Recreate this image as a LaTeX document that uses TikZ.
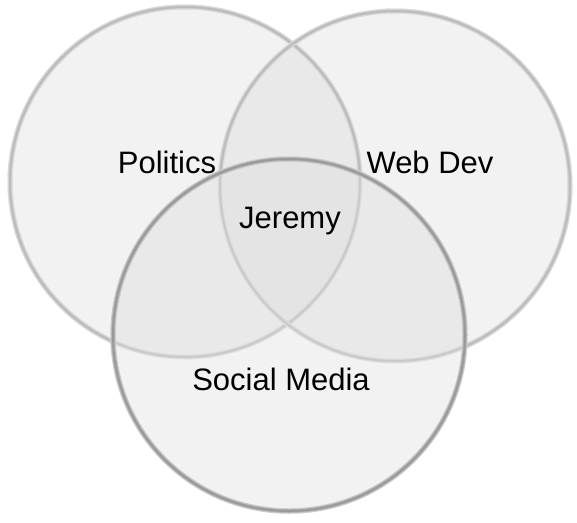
\documentclass[tikz,border=0pt]{standalone}
\usepackage{fontspec}
\setmainfont{Liberation Sans}
\definecolor{vone}{gray}{0.949}
\definecolor{vtwo}{gray}{0.914}
\definecolor{vthree}{gray}{0.894}
\begin{document}
\begin{tikzpicture}[x=1pt,y=-1pt,
  lbl/.style={anchor=base, font=\fontsize{31}{36}\selectfont, text=black, inner sep=0pt}]
\useasboundingbox (0,0) rectangle (577,522);
\fill[white] (0,0) rectangle (577,522);
\coordinate (cp) at (185,182);
\coordinate (cw) at (395,186);
\coordinate (cs) at (289,335);
\def\rp{175}\def\rw{175}\def\rs{176}
% fills
\fill[fill=vone] (cp) circle (\rp) (cw) circle (\rw) (cs) circle (\rs);
\begin{scope}\clip (cp) circle (\rp); \fill[fill=vtwo] (cw) circle (\rw); \fill[fill=vtwo] (cs) circle (\rs);\end{scope}
\begin{scope}\clip (cw) circle (\rw); \fill[fill=vtwo] (cs) circle (\rs);\end{scope}
\begin{scope}\clip (cp) circle (\rp); \clip (cw) circle (\rw); \fill[fill=vthree] (cs) circle (\rs);\end{scope}
% left and right rings, lighter inside the bottom circle
\foreach \c/\r in {cp/\rp, cw/\rw}{
  \draw[draw=black!12, line width=5pt] (\c) circle (\r);
  \draw[draw=black!17, line width=3pt] (\c) circle (\r);
  \draw[draw=black!21, line width=1.5pt] (\c) circle (\r);
}
\begin{scope}[even odd rule]
\clip (-20,-20) rectangle (600,560) (cs) circle (\rs);
\foreach \c/\r in {cp/\rp, cw/\rw}{
  \draw[draw=black!14, line width=5pt] (\c) circle (\r);
  \draw[draw=black!21, line width=3pt] (\c) circle (\r);
  \draw[draw=black!27, line width=1.5pt] (\c) circle (\r);
}
\end{scope}
% bottom ring
\draw[draw=black!20, line width=5.5pt] (cs) circle (\rs);
\draw[draw=black!31, line width=3.5pt] (cs) circle (\rs);
\draw[draw=black!40, line width=1.8pt] (cs) circle (\rs);
% named circle nodes (outlines carried by the rings above)
\node[circle, inner sep=0pt, minimum size=350pt] (pol) at (cp) {};
\node[circle, inner sep=0pt, minimum size=350pt] (web) at (cw) {};
\node[circle, inner sep=0pt, minimum size=352pt] (soc) at (cs) {};
% labels
\node[lbl] (lpol) at (167,173) {Politics};
\node[lbl] (lweb) at (430,173) {Web Dev};
\node[lbl] (ljer) at (290,228) {Jeremy};
\node[lbl] (lsoc) at (281,390) {Social Media};
\end{tikzpicture}
\end{document}
